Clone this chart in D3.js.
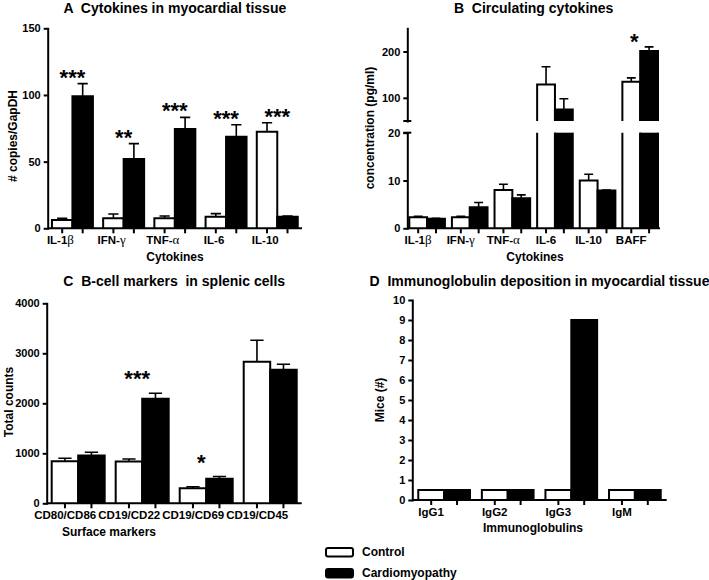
<!DOCTYPE html>
<html>
<head>
<meta charset="utf-8">
<script src="https://cdn.jsdelivr.net/npm/d3@7"></script>
<style>
  body { margin: 0; background: #fff; }
  svg text { font-family: "Liberation Sans", Arial, sans-serif; font-weight: bold; fill: #000; }
</style>
</head>
<body>
<div id="chart"></div>
<script>
// ---------------------------//
//            DATA            //
// ---------------------------//

// A - cytokines in myocardial tissue (# copies/GapDH)
const tissueCytokines = ["IL-1β", "IFN-γ", "TNF-α", "IL-6", "IL-10"];
const tissueControl    = [6.2, 7.5, 7.5, 8.7, 72.5];
const tissueControlErr = [1.3, 3.2, 1.7, 2.3, 6.7];
const tissueCardio     = [99, 52, 74.5, 68.7, 8.7];
const tissueCardioErr  = [9.5, 11.5, 8.7, 9, 0.4];
const tissueStars      = ["***", "**", "***", "***", "***"];

// B - circulating cytokines (pg/ml)
const serumCytokines = ["IL-1β", "IFN-γ", "TNF-α", "IL-6", "IL-10", "BAFF"];
const serumControl    = [2.3, 2.3, 8.0, 129, 10.0, 134.5];
const serumControlErr = [0.2, 0.2, 1.2, 38, 1.3, 8.5];
const serumCardio     = [2.0, 4.4, 6.3, 75, 7.9, 201];
const serumCardioErr  = [0.1, 1.0, 0.7, 23, 0.1, 9];
const serumStars      = ["", "", "", "", "", "*"];

// C - B-cell markers in splenic cells (total counts)
const markers = ["CD80/CD86", "CD19/CD22", "CD19/CD69", "CD19/CD45"];
const splenicControl    = [840, 835, 300, 2830];
const splenicControlErr = [60, 50, 30, 430];
const splenicCardio     = [955, 2090, 490, 2670];
const splenicCardioErr  = [65, 110, 45, 110];
const splenicStars      = ["", "***", "*", ""];

// D - immunoglobulin deposition (mice)
const isotypes = ["IgG1", "IgG2", "IgG3", "IgM"];
const depositControl = [0.5, 0.5, 0.5, 0.5];
const depositCardio  = [0.5, 0.5, 9, 0.5];

const seriesKeys = ["control", "cardio"];
const seriesNames = ["Control", "Cardiomyopathy"];
const fills = {control: "#fff", cardio: "#000"};

// ---------------------------//
//          SVG               //
// ---------------------------//
const svg = d3.select("#chart")
  .append("svg")
    .attr("width", 709)
    .attr("height", 580);

function drawPanel(p) {
  const g = svg.append("g");

  const x0 = d3.scaleBand()
    .domain(p.cats)
    .range(p.xRange)
    .paddingInner(p.padIn)
    .paddingOuter(p.padOut);
  const x1 = d3.scaleBand()
    .domain(seriesKeys)
    .range([0, x0.bandwidth()]);
  const bw = x1.bandwidth();
  const base = p.segs[0].y(0);

  const rows = [];
  p.cats.forEach((c, i) => {
    rows.push({cat: c, key: "control", v: p.ctrl[i], e: p.ctrlErr ? p.ctrlErr[i] : 0});
    rows.push({cat: c, key: "cardio", v: p.cardio[i], e: p.cardioErr ? p.cardioErr[i] : 0});
  });
  const bx = d => x0(d.cat) + x1(d.key);
  const segOf = v => p.segs.find(s => v >= s.lo && v <= s.hi) || p.segs[p.segs.length - 1];

  // bars: one piece per axis segment (B has a broken axis)
  p.segs.forEach(s => {
    const parts = rows.filter(d => d.v > s.lo);
    const top = d => s.y(Math.min(d.v, s.hi));
    g.append("g").selectAll("rect")
      .data(parts)
      .join("rect")
        .attr("x", bx)
        .attr("width", bw)
        .attr("y", top)
        .attr("height", d => s.y(s.lo) - top(d))
        .attr("fill", d => fills[d.key]);
    g.append("g").selectAll("path")
      .data(parts)
      .join("path")
        .attr("fill", "none")
        .attr("stroke", "#000")
        .attr("stroke-width", 2)
        .attr("d", d => {
          const x = bx(d), y0 = s.y(s.lo), y1 = top(d);
          return d.v <= s.hi
            ? `M${x},${y0}V${y1}H${x + bw}V${y0}`
            : `M${x},${y0}V${y1}M${x + bw},${y1}V${y0}`;
        });
  });

  // error bars (mean + SEM)
  g.append("g").selectAll("path")
    .data(rows.filter(d => d.e > 0))
    .join("path")
      .attr("fill", "none")
      .attr("stroke", "#000")
      .attr("stroke-width", 1.6)
      .attr("d", d => {
        const s = segOf(d.v);
        const cx = bx(d) + bw / 2, c = bw * 0.25;
        const y1 = s.y(d.v), y2 = s.y(d.v + d.e);
        return `M${cx},${y1}V${y2}M${cx - c},${y2}H${cx + c}`;
      });

  // significance stars
  if (p.stars) {
    const starData = p.cats.map((c, i) => ({
      cat: c,
      s: p.stars[i],
      top: d3.min(rows.filter(r => r.cat === c), r => segOf(r.v).y(r.v + r.e))
    })).filter(d => d.s);
    g.append("g").selectAll("text")
      .data(starData)
      .join("text")
        .attr("x", d => x0(d.cat) + x0.bandwidth() / 2 + p.starDx)
        .attr("y", d => d.top - p.starGap + 11)
        .attr("text-anchor", "middle")
        .style("font-size", "22px")
        .text(d => d.s);
  }

  // Y axis segments
  p.segs.forEach(s => {
    const ax = g.append("g")
      .attr("transform", `translate(${p.xRange[0]},0)`)
      .call(d3.axisLeft(s.y).tickValues(s.ticks).tickSize(4).tickSizeOuter(0).tickPadding(3).tickFormat(d3.format("d")));
    ax.attr("font-family", null).attr("font-size", null);
    ax.select(".domain").attr("stroke-width", 2).attr("stroke-linecap", "square");
    ax.selectAll(".tick line").attr("stroke-width", 2);
    ax.selectAll(".tick text").style("font-size", "11px");
  });
  // break caps
  if (p.segs.length > 1) {
    const xa = p.xRange[0];
    [p.segs[0].y(p.segs[0].hi), p.segs[1].y(p.segs[1].lo)].forEach(yy => {
      g.append("line")
        .attr("x1", xa - 4).attr("x2", xa + 4)
        .attr("y1", yy).attr("y2", yy)
        .attr("stroke", "#000").attr("stroke-width", 2);
    });
  }

  // X axis: baseline, one tick per bar, group labels
  g.append("line")
    .attr("x1", p.xRange[0]).attr("x2", p.xRange[1])
    .attr("y1", base).attr("y2", base)
    .attr("stroke", "#000").attr("stroke-width", 2);
  g.append("g").selectAll("line")
    .data(rows)
    .join("line")
      .attr("x1", d => bx(d) + bw / 2).attr("x2", d => bx(d) + bw / 2)
      .attr("y1", base).attr("y2", base + 5)
      .attr("stroke", "#000").attr("stroke-width", 2);
  g.append("g").selectAll("text")
    .data(p.cats)
    .join("text")
      .attr("x", d => x0(d) + x0.bandwidth() / 2 + p.labelDx)
      .attr("y", base + 16)
      .attr("text-anchor", "middle")
      .style("font-size", "11.5px")
      .each(function(d) {
        const t = d3.select(this);
        const m = d.match(/^(.*?)([αβγ])$/);
        if (m) {
          t.append("tspan").text(m[1]);
          t.append("tspan")
            .style("font-family", "'Liberation Serif', serif")
            .style("font-weight", "normal")
            .style("font-size", "13px")
            .text(m[2]);
        } else {
          t.text(d);
        }
      });

  // titles
  g.append("text")
    .attr("x", (p.xRange[0] + p.xRange[1]) / 2)
    .attr("y", p.titleY)
    .attr("text-anchor", "middle")
    .style("font-size", "14px")
    .style("white-space", "pre")
    .text(p.title);
  g.append("text")
    .attr("x", p.xTitle[0])
    .attr("y", p.xTitle[1])
    .attr("text-anchor", "middle")
    .style("font-size", "12px")
    .text(p.xLabel);
  g.append("text")
    .attr("transform", `translate(${p.yTitle[0]},${p.yTitle[1]}) rotate(-90)`)
    .attr("text-anchor", "middle")
    .attr("dy", "0.35em")
    .style("font-size", "12px")
    .text(p.yLabel);
}

// ---------------------------//
//          PANELS            //
// ---------------------------//

drawPanel({
  cats: tissueCytokines, ctrl: tissueControl, ctrlErr: tissueControlErr,
  cardio: tissueCardio, cardioErr: tissueCardioErr, stars: tissueStars,
  xRange: [47.7, 302], padIn: 0.2, padOut: 0.083,
  segs: [{y: d3.scaleLinear().domain([0, 150]).range([228.3, 28.3]), lo: 0, hi: 150, ticks: [0, 50, 100, 150]}],
  title: "A  Cytokines in myocardial tissue", titleY: 12.5,
  xLabel: "Cytokines", xTitle: [175, 261],
  yLabel: "# copies/GapDH", yTitle: [13, 136],
  labelDx: -12, starGap: 10, starDx: 0
});

drawPanel({
  cats: serumCytokines, ctrl: serumControl, ctrlErr: serumControlErr,
  cardio: serumCardio, cardioErr: serumCardioErr, stars: serumStars,
  xRange: [407.3, 660], padIn: 0.164, padOut: 0.047,
  segs: [
    {y: d3.scaleLinear().domain([0, 20]).range([228.3, 132.7]), lo: 0, hi: 20, ticks: [0, 10, 20]},
    {y: d3.scaleLinear().domain([50, 250]).range([121, 28.3]), lo: 50, hi: 250, ticks: [100, 200]}
  ],
  title: "B  Circulating cytokines", titleY: 12.5,
  xLabel: "Cytokines", xTitle: [535, 261],
  yLabel: "concentration (pg/ml)", yTitle: [370, 128],
  labelDx: -9, starGap: 9, starDx: -6
});

drawPanel({
  cats: markers, ctrl: splenicControl, ctrlErr: splenicControlErr,
  cardio: splenicCardio, cardioErr: splenicCardioErr, stars: splenicStars,
  xRange: [46.7, 301.7], padIn: 0.172, padOut: 0.078,
  segs: [{y: d3.scaleLinear().domain([0, 4000]).range([503.3, 303.3]), lo: 0, hi: 4000, ticks: [0, 1000, 2000, 3000, 4000]}],
  title: "C  B-cell markers  in splenic cells", titleY: 285.5,
  xLabel: "Surface markers", xTitle: [109, 536],
  yLabel: "Total counts", yTitle: [9, 402],
  labelDx: -13, starGap: 18, starDx: -5
});

drawPanel({
  cats: isotypes, ctrl: depositControl, cardio: depositCardio,
  xRange: [412.3, 666.7], padIn: 0.187, padOut: 0.094,
  segs: [{y: d3.scaleLinear().domain([0, 10]).range([500, 300]), lo: 0, hi: 10, ticks: d3.range(0, 11)}],
  title: "D  Immunoglobulin deposition in myocardial tissue", titleY: 285.5,
  xLabel: "Immunoglobulins", xTitle: [533, 532],
  yLabel: "Mice (#)", yTitle: [380, 400],
  labelDx: -13
});

// ---------------------------//
//          LEGEND            //
// ---------------------------//
const legend = svg.append("g").attr("transform", "translate(325,547)");
legend.selectAll("rect")
  .data(seriesKeys)
  .join("rect")
    .attr("x", 1)
    .attr("y", (d, i) => 1 + i * 21)
    .attr("width", 27)
    .attr("height", 8.5)
    .attr("rx", 2)
    .attr("fill", d => fills[d])
    .attr("stroke", "#000")
    .attr("stroke-width", 2);
legend.selectAll("text")
  .data(seriesNames)
  .join("text")
    .attr("x", 37)
    .attr("y", (d, i) => 9 + i * 21)
    .style("font-size", "12px")
    .text(d => d);
</script>
</body>
</html>
